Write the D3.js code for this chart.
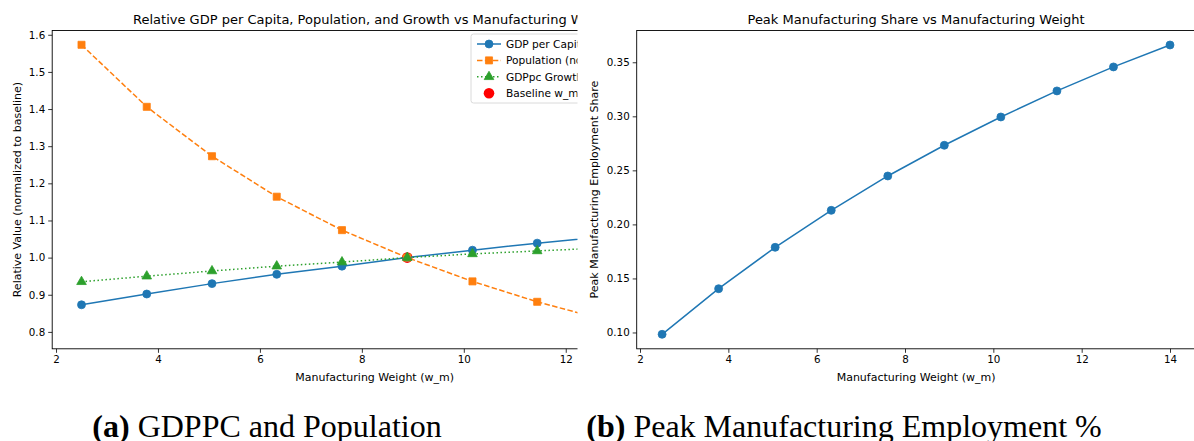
<!DOCTYPE html>
<html>
<head>
<meta charset="utf-8">
<script src="https://cdn.jsdelivr.net/npm/d3@7"></script>
<style>
  body { margin: 0; background: #fff; }
  svg { display: block; }
</style>
</head>
<body>
<div id="chart"></div>
<script>
// values
var wm = [2.5, 3.78, 5.06, 6.33, 7.61, 8.89, 10.17, 11.44, 12.72, 14.0];
var gdppc = [0.873, 0.902, 0.930, 0.955, 0.977, 1.000, 1.020, 1.039, 1.056, 1.072];
var population = [1.573, 1.406, 1.273, 1.164, 1.074, 1.000, 0.936, 0.881, 0.834, 0.793];
var growth = [0.935, 0.950, 0.964, 0.977, 0.988, 1.000, 1.010, 1.018, 1.026, 1.033];
var baselineX = [8.89];
var baselineY = [1.0];
var peakShare = [0.0983, 0.1405, 0.1788, 0.2130, 0.2448, 0.2732, 0.2994, 0.3235, 0.3457, 0.3660];

var xTicks = [2, 4, 6, 8, 10, 12, 14];
var leftTicks = [0.8, 0.9, 1.0, 1.1, 1.2, 1.3, 1.4, 1.5, 1.6];
var rightTicks = [0.10, 0.15, 0.20, 0.25, 0.30, 0.35];
var legendLabels = ['GDP per Capita (normalized)', 'Population (normalized)', 'GDPpc Growth (normalized)', 'Baseline w_m = 8.89'];

var FONT = 'DejaVu Sans';
var W = 1194, H = 441;
var C = { blue: '#1f77b4', orange: '#ff7f0e', green: '#2ca02c', red: '#ff0000' };

var svg = d3.select('#chart').append('svg').attr('width', W).attr('height', H);

// left panel is cut off by the page at x ~ 577
svg.append('clipPath').attr('id', 'clipL')
  .append('rect').attr('x', 0).attr('y', 0).attr('width', 577.5).attr('height', 395);

function styleAxis(sel) {
  sel.select('.domain').remove();
  sel.selectAll('.tick line').attr('stroke', '#000').attr('stroke-width', 0.8);
  sel.selectAll('.tick text').attr('fill', '#000').attr('font-size', '10.3px').attr('font-family', FONT);
}

function panel(opts) {
  var g = svg.append('g');
  if (opts.clip) g.attr('clip-path', 'url(#clip' + opts.clip + ')');
  var x = d3.scaleLinear().domain([1.925, 14.575]).range([opts.x0, opts.x1]);
  var y = d3.scaleLinear().domain(opts.yDomain).range([348.8, 30.5]);

  g.append('g').attr('transform', 'translate(0,348.8)')
    .call(d3.axisBottom(x).tickValues(xTicks).tickFormat(d3.format('d')).tickSizeOuter(0).tickSize(4).tickPadding(3))
    .call(styleAxis);
  g.append('g').attr('transform', 'translate(' + opts.x0 + ',0)')
    .call(d3.axisLeft(y).tickValues(opts.yTicks).tickFormat(opts.fmt).tickSizeOuter(0).tickSize(4).tickPadding(3))
    .call(styleAxis);

  // spines
  g.append('rect').attr('x', opts.x0).attr('y', 30.5).attr('width', opts.x1 - opts.x0).attr('height', 348.8 - 30.5)
    .attr('fill', 'none').attr('stroke', '#000').attr('stroke-width', 0.9);

  g.append('text').attr('x', (opts.x0 + opts.x1) / 2).attr('y', 23.5)
    .attr('text-anchor', 'middle').attr('font-size', '13px').attr('font-family', FONT).text(opts.title);
  g.append('text').attr('x', (opts.x0 + opts.x1) / 2).attr('y', 380.5)
    .attr('text-anchor', 'middle').attr('font-size', '11px').attr('font-family', FONT).text('Manufacturing Weight (w_m)');
  g.append('text').attr('transform', 'rotate(-90)').attr('x', -189.6).attr('y', opts.x0 - opts.ylabOff)
    .attr('text-anchor', 'middle').attr('font-size', '11px').attr('font-family', FONT).text(opts.ylabel);

  return { g: g, x: x, y: y };
}

function series(p, vals, color, dash, marker) {
  var line = d3.line().x(function(d, i) { return p.x(wm[i]); }).y(function(d) { return p.y(d); });
  p.g.append('path').datum(vals).attr('d', line).attr('fill', 'none')
    .attr('stroke', color).attr('stroke-width', 1.5).attr('stroke-dasharray', dash);
  p.g.append('g').selectAll('path').data(vals).join('path')
    .attr('transform', function(d, i) { return 'translate(' + p.x(wm[i]) + ',' + p.y(d) + ')'; })
    .attr('d', marker).attr('fill', color).attr('stroke', color).attr('stroke-width', 0.8);
}

var circ = d3.symbol().type(d3.symbolCircle).size(50)();
var sq = d3.symbol().type(d3.symbolSquare).size(50)();
var tri = d3.symbol().type(d3.symbolTriangle).size(40)();

// (a) left panel
var L = panel({
  clip: 'L', x0: 52.2, x1: 697, yDomain: [0.7545, 1.6115], yTicks: leftTicks, fmt: d3.format('.1f'),
  title: 'Relative GDP per Capita, Population, and Growth vs Manufacturing Weight',
  ylabel: 'Relative Value (normalized to baseline)', ylabOff: 31.5
});
L.g.append('g').selectAll('circle').data(baselineY).join('circle')
  .attr('cx', function(d, i) { return L.x(baselineX[i]); }).attr('cy', function(d) { return L.y(d); })
  .attr('r', 5.3).attr('fill', C.red);
series(L, gdppc, C.blue, null, circ);
series(L, population, C.orange, '5.5,2.4', sq);
series(L, growth, C.green, '1.5,2.5', tri);

// legend (upper right, partly cut off)
var lg = L.g.append('g').attr('transform', 'translate(471,34)');
lg.append('rect').attr('width', 219).attr('height', 69).attr('rx', 2.5)
  .attr('fill', '#fff').attr('fill-opacity', 0.8).attr('stroke', '#d0d0d0').attr('stroke-width', 0.8);
var hs = [
  { c: C.blue, dash: null, m: circ },
  { c: C.orange, dash: '5.5,2.4', m: sq },
  { c: C.green, dash: '1.5,2.5', m: tri },
  { c: C.red, dash: null, m: null }
];
legendLabels.forEach(function(lab, i) {
  var ly = 10 + i * 16.4;
  var h = hs[i];
  if (h.m) {
    lg.append('line').attr('x1', 6).attr('x2', 30).attr('y1', ly).attr('y2', ly)
      .attr('stroke', h.c).attr('stroke-width', 1.5).attr('stroke-dasharray', h.dash);
    lg.append('path').attr('transform', 'translate(18,' + ly + ')').attr('d', h.m).attr('fill', h.c).attr('stroke', h.c).attr('stroke-width', 0.8);
  } else {
    lg.append('circle').attr('cx', 18).attr('cy', ly).attr('r', 5.3).attr('fill', h.c);
  }
  lg.append('text').attr('x', 35).attr('y', ly + 3.8).attr('font-size', '10.6px').attr('font-family', FONT).text(lab);
});

// (b) right panel
var R = panel({
  x0: 636.7, x1: 1195.4, yDomain: [0.0849, 0.3794], yTicks: rightTicks, fmt: d3.format('.2f'),
  title: 'Peak Manufacturing Share vs Manufacturing Weight',
  ylabel: 'Peak Manufacturing Employment Share', ylabOff: 38.5
});
series(R, peakShare, C.blue, null, circ);

// sub-figure captions
function caption(cx, tag, rest) {
  var t = svg.append('text').attr('x', cx).attr('y', 437).attr('text-anchor', 'middle')
    .attr('font-family', 'Liberation Serif').attr('font-size', '32px').attr('fill', '#000');
  t.append('tspan').attr('font-weight', 'bold').text(tag);
  t.append('tspan').text(' ' + rest);
}
caption(267, '(a)', 'GDPPC and Population');
caption(844, '(b)', 'Peak Manufacturing Employment %');
</script>
</body>
</html>
